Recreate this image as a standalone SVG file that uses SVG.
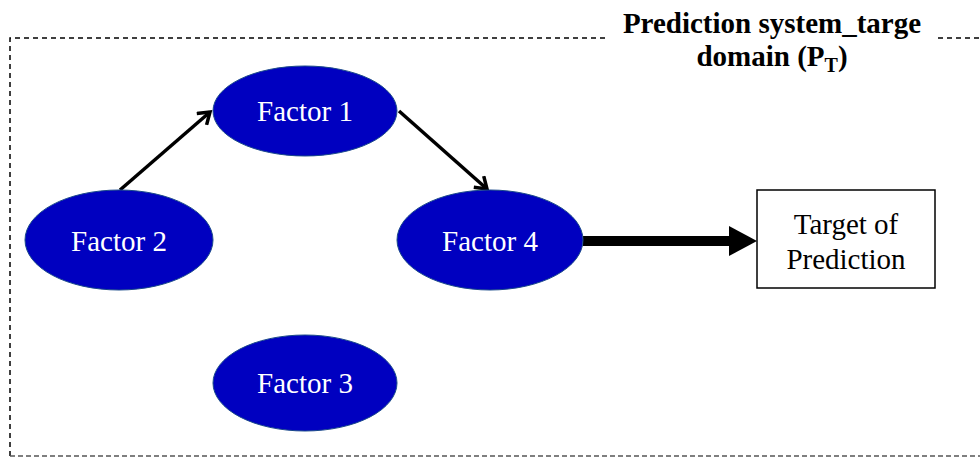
<svg xmlns="http://www.w3.org/2000/svg" width="980" height="458" viewBox="0 0 980 458">
<style>
.factor{fill:#0000C0;stroke:#1a4a8a;stroke-width:1}
.flabel{font-family:"Liberation Serif",serif;font-size:29px;fill:#fff;text-anchor:middle}
.blabel{font-family:"Liberation Serif",serif;font-size:29px;fill:#000;text-anchor:middle}
.title{font-family:"Liberation Serif",serif;font-size:29px;font-weight:bold;fill:#000;text-anchor:middle}
.thin{stroke:#000;stroke-width:3.5;fill:none}
</style>
<defs>
<marker id="open" markerWidth="16" markerHeight="18" refX="13" refY="9" orient="auto" markerUnits="userSpaceOnUse">
<path d="M2,1.5 L13,9 L2,16.5" fill="none" stroke="#000" stroke-width="3.5"/>
</marker>
</defs>
<g id="frame">
<path d="M10,456 L10,38 L607,38 M938,38 L980,38" fill="none" stroke="#000" stroke-width="1.5" stroke-dasharray="5,4"/>
<path d="M10,456 L980,456" fill="none" stroke="#555" stroke-width="1.5" stroke-dasharray="5,3"/>
</g>
<g id="title">
<text class="title" x="772" y="33">Prediction system_targe</text>
<text class="title" x="772" y="66">domain (P<tspan font-size="20" dy="6">T</tspan><tspan dy="-6">)</tspan></text>
</g>
<g id="connectors">
<line class="thin" x1="120" y1="190" x2="210" y2="112" marker-end="url(#open)"/>
<line class="thin" x1="399" y1="111" x2="487" y2="189" marker-end="url(#open)"/>
<line x1="583" y1="241" x2="732" y2="241" stroke="#000" stroke-width="10"/>
<polygon points="729,226 757,241 729,256" fill="#000"/>
</g>
<g id="factor1">
<ellipse class="factor" cx="305" cy="111" rx="92" ry="45"/>
<text class="flabel" x="305" y="121">Factor 1</text>
</g>
<g id="factor2">
<ellipse class="factor" cx="119" cy="240" rx="94" ry="50"/>
<text class="flabel" x="119" y="251">Factor 2</text>
</g>
<g id="factor4">
<ellipse class="factor" cx="490" cy="240" rx="93" ry="50"/>
<text class="flabel" x="490" y="251">Factor 4</text>
</g>
<g id="factor3">
<ellipse class="factor" cx="305" cy="383" rx="92" ry="48"/>
<text class="flabel" x="305" y="393">Factor 3</text>
</g>
<g id="target">
<rect x="757" y="190" width="178" height="98" fill="#fff" stroke="#000" stroke-width="1.5"/>
<text class="blabel" x="846" y="234">Target of</text>
<text class="blabel" x="846" y="269">Prediction</text>
</g>
</svg>
